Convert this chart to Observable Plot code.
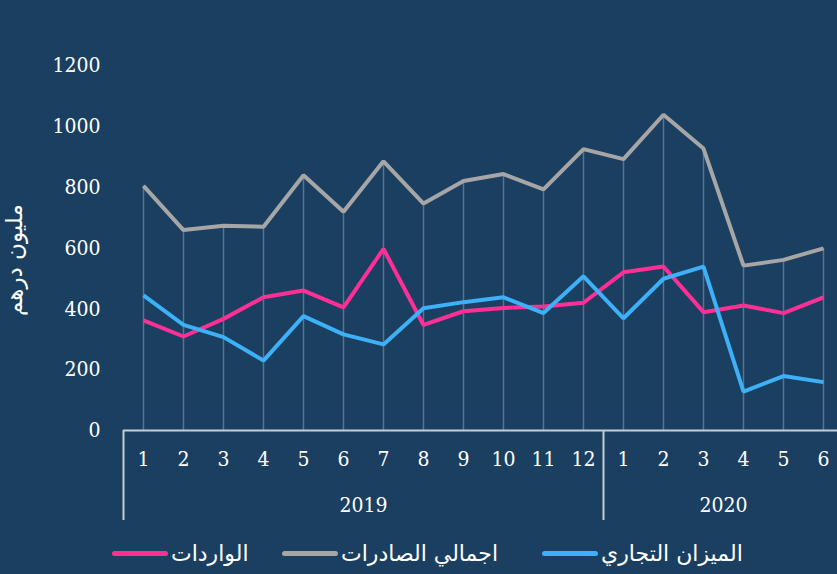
<!DOCTYPE html>
<html>
<head>
<meta charset="utf-8">
<script src="https://cdn.jsdelivr.net/npm/d3@7"></script>
<script src="https://cdn.jsdelivr.net/npm/@observablehq/plot@0.6"></script>
<style>
  html, body { margin: 0; padding: 0; background: #1b3f61; }
  #wrap { position: relative; width: 837px; height: 574px; overflow: hidden; background: #1b3f61; }
  .leg { position: absolute; top: 538px; height: 30px; display: flex; align-items: center; color: #ffffff;
         font-family: "DejaVu Sans", "Noto Sans", sans-serif; font-size: 22px; }
  .sw { width: 56px; height: 5px; border-radius: 3px; margin-right: 3px; }
</style>
</head>
<body>
<div id="wrap"></div>
<script>
const months = ["1","2","3","4","5","6","7","8","9","10","11","12","1","2","3","4","5","6"];
const years = ["2019", "2020"];
const yearCenters = [5.5, 14.5];
const yTicks = [0, 200, 400, 600, 800, 1000, 1200];
const seriesNames = ["الواردات", "اجمالي الصادرات", "الميزان التجاري"];
const imports = [362, 309, 367, 438, 460, 405, 597, 347, 392, 403, 408, 420, 520, 539, 389, 411, 386, 438];
const exports = [804, 659, 673, 670, 839, 719, 885, 746, 820, 843, 793, 925, 892, 1038, 927, 542, 561, 599];
const balance = [444, 347, 307, 230, 376, 316, 283, 402, 422, 438, 386, 507, 369, 499, 539, 128, 179, 159];
const colors = ["#ff2f96", "#a6a6a6", "#3db0f7"];

const idx = months.map((_, i) => i);
const rows = [];
[imports, exports, balance].forEach((arr, s) => arr.forEach((v, i) => rows.push({i, v, s: seriesNames[s]})));

const numFont = '"DejaVu Serif Condensed", "DejaVu Serif", serif';

const chart = Plot.plot({
  width: 837,
  height: 530,
  marginLeft: 123,
  marginRight: 0,
  marginTop: 20,
  marginBottom: 100,
  style: { background: "#1b3f61", color: "#ffffff", fontFamily: numFont, fontSize: "21px" },
  x: { type: "linear", domain: [0, 17], range: [143, 823], axis: null },
  y: { domain: [0, 1200], range: [430, 65], axis: null },
  color: { domain: seriesNames, range: colors },
  marks: [
    Plot.text(yTicks, { x: -0.5, y: d => d, text: d => String(d), textAnchor: "end", dx: -23, fill: "#ffffff", fontFamily: numFont, fontSize: 21 }),
    Plot.ruleX(idx, { x: d => d, y1: 0, y2: d => exports[d], stroke: "#58748f", strokeWidth: 1.5 }),
    Plot.line(rows, { x: "i", y: "v", z: "s", stroke: "s", strokeWidth: 4, strokeLinejoin: "miter", strokeLinecap: "butt" }),
    Plot.ruleY([0], { stroke: "#c8cdd3", strokeWidth: 2 }),
    Plot.ruleX([-0.5, 11.5], { y1: 0, y2: -296, stroke: "#c8cdd3", strokeWidth: 2 }),
    Plot.text(idx, { x: d => d, y: -96, text: d => months[d], fill: "#ffffff", fontFamily: numFont, fontSize: 21 }),
    Plot.text(yearCenters, { x: d => d, y: -245, text: (d, i) => years[i], fill: "#ffffff", fontFamily: numFont, fontSize: 21 }),
    Plot.text(["مليون درهم"], { x: -0.5, y: 560, text: d => d, dx: -109, rotate: -90, fill: "#ffffff", fontFamily: '"DejaVu Sans", sans-serif', fontSize: 23 })
  ]
});
const wrap = document.getElementById("wrap");
wrap.appendChild(chart);

const legPos = [112, 282, 542];
seriesNames.forEach((name, k) => {
  const d = document.createElement("div");
  d.className = "leg";
  d.style.left = legPos[k] + "px";
  const sw = document.createElement("div");
  sw.className = "sw";
  sw.style.background = colors[k];
  const t = document.createElement("span");
  t.textContent = name;
  t.setAttribute("dir", "rtl");
  d.appendChild(sw);
  d.appendChild(t);
  wrap.appendChild(d);
});
</script>
</body>
</html>
